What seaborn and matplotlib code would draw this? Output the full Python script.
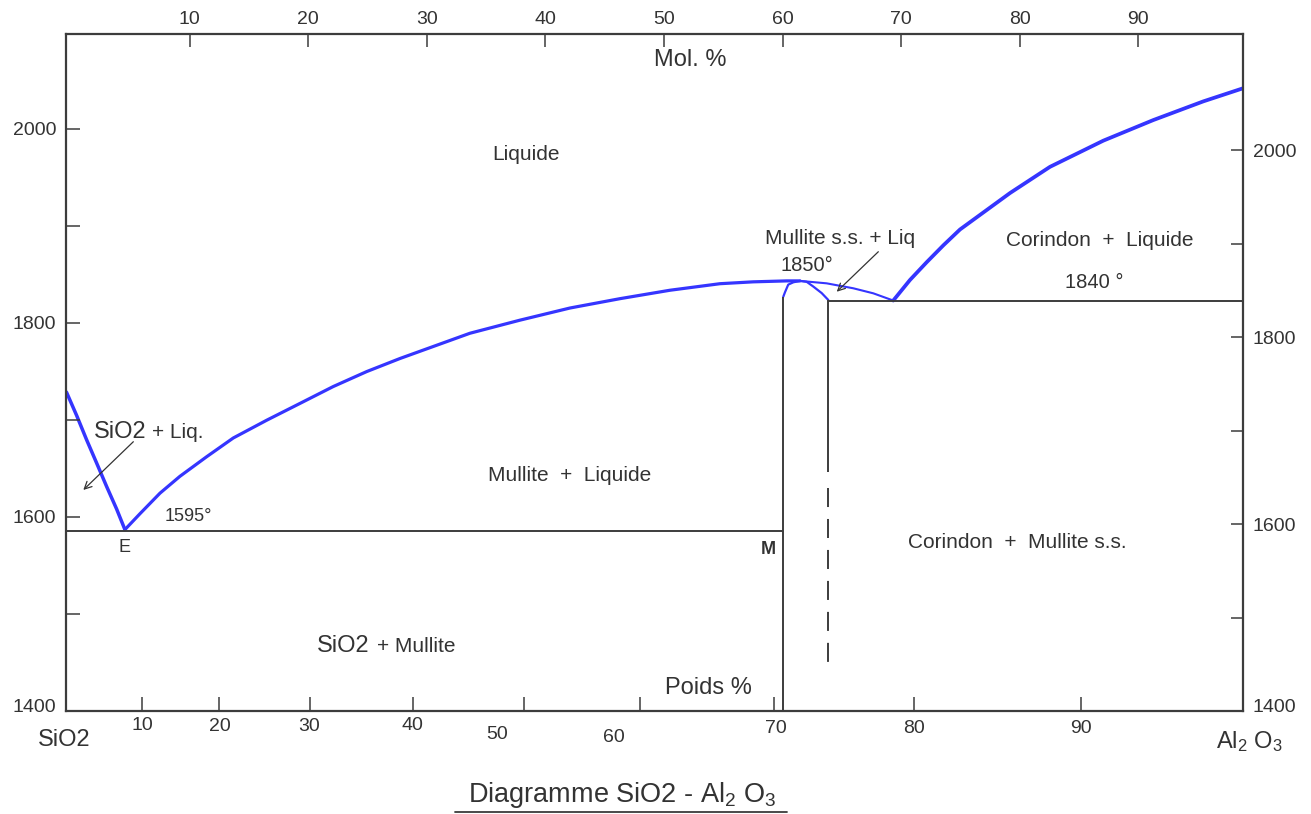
import matplotlib
matplotlib.use("Agg")
import matplotlib.pyplot as plt
import seaborn as sns
from matplotlib.transforms import ScaledTranslation
from matplotlib.lines import Line2D

# ---------------- data ----------------
# x = composition in mol % Al2O3, y = temperature in degC (right-hand scale)
mol_ticks = [10, 20, 30, 40, 50, 60, 70, 80, 90]
wt_tick_labels = ["10", "20", "30", "40", "50", "60", "70", "80", "90"]
wt_tick_pos = [6.0, 12.5, 20.1, 28.8, 38.2, 48.0, 59.3, 71.1, 85.2]
temp_ticks = [1400, 1500, 1600, 1700, 1800, 1900, 2000]
temp_labels = ["1400", "", "1600", "", "1800", "", "2000"]

liq_sio2_x = [-0.4, 0.46, 1.30, 2.15, 2.99, 3.83, 4.53]
liq_sio2_t = [1741, 1716, 1690, 1665, 1640, 1616, 1594]

liq_mullite_x = [4.53, 5.80, 7.49, 9.17, 11.43, 13.67, 16.49, 19.30, 22.10, 24.92,
                 27.73, 33.63, 37.85, 42.07, 46.29, 50.50, 54.72, 57.53, 60.35, 61.47]
liq_mullite_t = [1594, 1611, 1633, 1651, 1672, 1692, 1711, 1729, 1747, 1763,
                 1777, 1804, 1818, 1831, 1841, 1850, 1857, 1859, 1860, 1860]

liq_peri_x = [61.47, 63.72, 65.97, 67.66, 69.34]
liq_peri_t = [1860, 1857.4, 1852.1, 1846.7, 1839]

dome_x = [60.06, 60.21, 60.48, 60.91, 61.47, 62.04, 62.59, 63.30, 63.86]
dome_t = [1843, 1848, 1856, 1858.5, 1860, 1859, 1854, 1847, 1839.6]

liq_al2o3_x = [69.34, 70.75, 72.16, 73.56, 74.97, 79.19, 82.56, 87.06, 91.27, 95.49, 98.84]
liq_al2o3_t = [1839, 1861, 1880, 1898, 1915, 1954, 1982, 2010, 2032, 2052, 2066]

t_eutectic = 1592
t_peritectic = 1838
x_mullite_left = 60.06
x_mullite_right = 63.86
mullite_right_solid = [1839.6, 1656]
mullite_right_dashed = [1638.5, 1451]

# ---------------- style ----------------
sns.set_style("ticks")
plt.rcParams["font.family"] = ["Liberation Sans", "DejaVu Sans"]
plt.rcParams["mathtext.fontset"] = "custom"
plt.rcParams["mathtext.rm"] = "Liberation Sans"
plt.rcParams["mathtext.default"] = "regular"
plt.rcParams["lines.scale_dashes"] = False

BLUE = "#3535ff"
INK = "#333333"
FRAME = "#3c3c3c"

W, H = 1311, 814
fig = plt.figure(figsize=(W / 100, H / 100), dpi=100)
ax = fig.add_axes([66 / W, 1 - 711 / H, 1177 / W, 677.5 / H])
ax.set_xlim(-0.44, 98.84)
ax.set_ylim(1400, 2124.6)

axL = ax.twinx()
axT = ax.twiny()
axL.set_ylim(1400, 2098)
axT.set_xlim(-0.44, 98.84)

# ---------------- curves ----------------
kw = dict(ax=ax, sort=False, estimator=None, color=BLUE, legend=False)
sns.lineplot(x=liq_sio2_x, y=liq_sio2_t, lw=2.5, **kw)
sns.lineplot(x=liq_mullite_x, y=liq_mullite_t, lw=2.3, **kw)
sns.lineplot(x=liq_peri_x, y=liq_peri_t, lw=1.5, **kw)
sns.lineplot(x=dome_x, y=dome_t, lw=1.6, **kw)
sns.lineplot(x=liq_al2o3_x, y=liq_al2o3_t, lw=2.7, **kw)
for line in ax.get_lines():
    line.set_solid_joinstyle("round")

# phase boundaries
ax.hlines(t_eutectic, ax.get_xlim()[0], x_mullite_left, color=FRAME, lw=1.4)
ax.hlines(t_peritectic, x_mullite_right, ax.get_xlim()[1], color=FRAME, lw=1.4)
ax.vlines(x_mullite_left, 1400, dome_t[0], color=FRAME, lw=1.4)
ax.vlines(x_mullite_right, mullite_right_solid[1], mullite_right_solid[0], color=FRAME, lw=1.4)
ax.plot([x_mullite_right] * 2, mullite_right_dashed, color=FRAME, lw=1.4,
        ls=(0, (13.7, 8.6)))

# arrows
arr = dict(arrowstyle="->", color=INK, lw=0.9, mutation_scale=13, shrinkA=0, shrinkB=0)
ax.annotate("", xy=(1.02, 1636.4), xytext=(5.24, 1688.0), arrowprops=arr)
ax.annotate("", xy=(64.57, 1848.4), xytext=(68.08, 1891.2), arrowprops=arr)

# ---------------- labels inside ----------------
tk = dict(color=INK, fontsize=15)
ax.text(38.32, 1994.7, "Liquide", ha="center", va="center", **tk)
ax.text(52.19, 2096.3, "Mol. %", ha="center", va="center", color=INK, fontsize=17)
ax.text(53.71, 1424.6, "Poids %", ha="center", va="center", color=INK, fontsize=17)
ax.text(64.84, 1905.6, "Mullite s.s. + Liq", ha="center", va="center", **tk)
ax.text(62.04, 1877.0, "1850°", ha="center", va="center", color=INK, fontsize=14.5)
ax.text(86.78, 1903.7, "Corindon  +  Liquide", ha="center", va="center", **tk)
ax.text(86.27, 1857.8, "1840 °", ha="center", va="center", color=INK, fontsize=14.5)
ax.text(6.36, 1691.7, "SiO2", ha="right", va="baseline", color=INK, fontsize=17)
ax.text(6.79, 1691.7, "+ Liq.", ha="left", va="baseline", **tk)
ax.text(9.85, 1607.8, "1595°", ha="center", va="center", color=INK, fontsize=13)
ax.text(4.53, 1575.4, "E", ha="center", va="center", color=INK, fontsize=13)
ax.text(58.80, 1572.2, "M", ha="center", va="center", color=INK, fontsize=13,
        fontweight="bold")
ax.text(42.07, 1652.4, "Mullite  +  Liquide", ha="center", va="center", **tk)
ax.text(79.82, 1580.0, "Corindon  +  Mullite s.s.", ha="center", va="center", **tk)
ax.text(25.2, 1463.4, "SiO2", ha="right", va="baseline", color=INK, fontsize=17)
ax.text(25.77, 1463.4, "+ Mullite", ha="left", va="baseline", **tk)

# ---------------- axes / ticks ----------------
ax.set_xticks(wt_tick_pos, wt_tick_labels)
ax.xaxis.tick_bottom()
ax.set_yticks(temp_ticks, temp_labels)
ax.yaxis.tick_right()
axL.set_yticks(temp_ticks, temp_labels)
axL.yaxis.tick_left()
axT.set_xticks(mol_ticks, [str(v) for v in mol_ticks])
axT.xaxis.tick_top()

ax.tick_params(axis="x", direction="in", length=10, width=1.1, color=FRAME,
               labelcolor=INK, labelsize=14, pad=4)
ax.tick_params(axis="y", direction="in", length=9, width=1.1, color=FRAME,
               labelcolor=INK, labelsize=14, pad=7)
axL.tick_params(axis="y", direction="in", length=10, width=1.1, color=FRAME,
                labelcolor=INK, labelsize=14, pad=7)
axT.tick_params(axis="x", direction="in", length=9.5, width=1.1, color=FRAME,
                labelcolor=INK, labelsize=14, pad=4)

for a in (ax, axL, axT):
    a.set_xlabel("")
    a.set_ylabel("")
for s in ax.spines.values():
    s.set_visible(True)
    s.set_color(FRAME)
    s.set_linewidth(1.6)
for a in (axL, axT):
    for s in a.spines.values():
        s.set_visible(False)

# per-label nudges (pixels: dx right, dy down) for the hand-placed weight % labels
label_nudges_px = [(0, 0), (0, 1), (0, 1), (0, 0), (-27, 9), (-26, 12), (2, 3), (0, 3), (0, 3)]
for tick, (dx, dy) in zip(ax.xaxis.get_major_ticks(), label_nudges_px):
    tick.label1.set_transform(tick.label1.get_transform()
                              + ScaledTranslation(dx / 100, -dy / 100, fig.dpi_scale_trans))
for t in (ax.yaxis.get_major_ticks()[0].label2, axL.yaxis.get_major_ticks()[0].label1):
    t.set_transform(t.get_transform() + ScaledTranslation(0, 5 / 100, fig.dpi_scale_trans))

# ---------------- outside texts ----------------
fig.text(64 / W, 1 - 740 / H, "SiO2", ha="center", va="center", color=INK, fontsize=17)
fig.text(1249 / W, 1 - 742 / H, "Al$_2$ O$_3$", ha="center", va="center", color=INK,
         fontsize=17)
fig.text(622 / W, 1 - 801.7 / H, "Diagramme SiO2 - Al$_2$ O$_3$", ha="center",
         va="baseline", color=INK, fontsize=19.5)
fig.add_artist(Line2D([455 / W, 787 / W], [0.0025, 0.0025], color=FRAME, lw=1.3,
                      transform=fig.transFigure))

fig.savefig("out.png", dpi=100)
